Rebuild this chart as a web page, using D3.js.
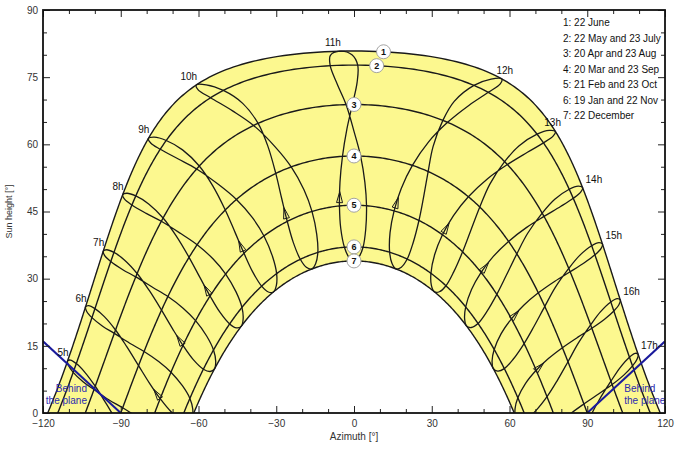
<!DOCTYPE html>
<html><head><meta charset="utf-8">
<script src="https://cdn.jsdelivr.net/npm/d3@7"></script>
<style>
body{margin:0;background:#fff}
text{font-family:"Liberation Sans",Arial,sans-serif}
</style>
</head><body>
<svg id="chart" width="686" height="449"></svg>
<script>
// ---------------- data ----------------
const latitude = 32.6;          // site latitude, deg N
const clockToSolarMin = 58;     // solar time minus clock time (minutes), before equation of time
const curveDeclination = [23.44, 20.3, 11.5, 0, -11.0, -20.3, -23.44];
const curveNumbers = ["1","2","3","4","5","6","7"];
const curveLegend = ["1: 22 June","2: 22 May and 23 July","3: 20 Apr and 23 Aug","4: 20 Mar and 23 Sep","5: 21 Feb and 23 Oct","6: 19 Jan and 22 Nov","7: 22 December"];
const markerAzimuth = [10, 8, 0, 0, 0, 0, 0];
const yearDates = ["Dec 22","Jan 5","Jan 19","Feb 5","Feb 21","Mar 6","Mar 20","Apr 5","Apr 20","May 6","May 22","Jun 6","Jun 22","Jul 7","Jul 23","Aug 8","Aug 23","Sep 8","Sep 23","Oct 8","Oct 23","Nov 7","Nov 22","Dec 7"];
const yearDeclination = [-23.44,-22.6,-20.3,-16.0,-11.0,-5.7,0,6.1,11.5,16.5,20.3,22.6,23.44,22.6,20.3,16.0,11.5,5.5,0,-5.8,-11.0,-16.3,-20.3,-22.6];
const yearEoT = [1.6,-5.0,-10.6,-14.0,-13.8,-11.5,-7.6,-2.9,1.1,3.4,3.3,1.4,-1.8,-4.9,-6.4,-5.6,-2.5,2.0,7.5,12.5,15.6,16.2,13.9,8.5];
const hours = [5,6,7,8,9,10,11,12,13,14,15,16,17];
const hourLabels = ["5h","6h","7h","8h","9h","10h","11h","12h","13h","14h","15h","16h","17h"];
const xTickLabels = [-120,-90,-60,-30,0,30,60,90,120];
const yTickLabels = [0,15,30,45,60,75,90];
const planeLeft = [[-120,16],[-90,0]];
const planeRight = [[90,0],[120,16]];
const planeText = ["Behind","the plane"];

// ---------------- layout ----------------
const svg = d3.select("#chart");
const L = 43, R = 665, T = 10, B = 413;
const x = d3.scaleLinear().domain([-120,120]).range([L,R]);
const y = d3.scaleLinear().domain([0,90]).range([B,T]);
const yellow = "#fcf88f", ink = "#1a1a1a";

svg.append("defs").append("clipPath").attr("id","plot")
  .append("rect").attr("x",L).attr("y",T).attr("width",R-L).attr("height",B-T);

// equatorial (hour angle, declination) -> horizon (azimuth from south, altitude)
const toHorizon = d3.geoRotation([0, 90 - latitude]);
const hourAngle = (h, eot) => 15*(h-12) + (clockToSolarMin + eot)/4;

const line = d3.line().x(d=>x(d[0])).y(d=>y(d[1]));
const dayPath = dec => d3.range(-180, 180.01, 0.5)
  .map(H => toHorizon([H, dec])).filter(p => p[1] > -8);

const g = svg.append("g").attr("clip-path","url(#plot)");

// yellow band between 22 June and 22 December
const band = dayPath(curveDeclination[0]).concat(dayPath(curveDeclination[6]).reverse());
g.append("path").attr("d", line(band) + "Z").attr("fill", yellow).attr("stroke","none");

// day curves
const dayCurves = curveDeclination.map(dayPath);
g.selectAll("path.day").data(dayCurves).join("path").attr("class","day")
  .attr("d", line).attr("fill","none").attr("stroke",ink).attr("stroke-width",1.4);

// analemmas
const closed = d3.line().x(d=>x(d[0])).y(d=>y(d[1])).curve(d3.curveCatmullRomClosed.alpha(0.5));
const analemmas = hours.map(h => yearDates.map((d,j) => toHorizon([hourAngle(h, yearEoT[j]), yearDeclination[j]])));
g.selectAll("path.ana").data(analemmas).join("path").attr("class","ana")
  .attr("d", closed).attr("fill","none").attr("stroke",ink).attr("stroke-width",1.3);

// direction arrows (between 21 Feb and 6 Mar)
const iA = yearDates.indexOf("Feb 21"), iB = yearDates.indexOf("Mar 6");
analemmas.forEach(pts => {
  const a = pts[iA], b = pts[iB];
  const ax = x(a[0]), ay = y(a[1]), bx = x(b[0]), by = y(b[1]);
  const tx = ax + 0.6*(bx-ax), ty = ay + 0.6*(by-ay);
  if (ty > B - 4) return;
  let dx = bx-ax, dy = by-ay; const n = Math.hypot(dx,dy); dx/=n; dy/=n;
  const len = 11, w = 3;
  const p1 = [tx - dx*len - dy*w, ty - dy*len + dx*w];
  const p2 = [tx - dx*len + dy*w, ty - dy*len - dx*w];
  g.append("path").attr("d",`M${p1}L${tx},${ty}L${p2}Z`)
    .attr("fill","none").attr("stroke",ink).attr("stroke-width",1);
});

// plane edges
[planeLeft, planeRight].forEach(p => g.append("path").attr("d", line(p))
  .attr("fill","none").attr("stroke","#1a1a9c").attr("stroke-width",2));

// legend
const legend = svg.append("g");
legend.selectAll("text").data(curveLegend).join("text")
  .attr("x",563).attr("y",(d,i)=>26 + i*15.5).attr("font-size",10).attr("fill","#111").text(d=>d);
const legendBox = legend.node().getBBox();

// hour labels at the 22 June point
const iJun = yearDates.indexOf("Jun 22");
hours.forEach((h,k) => {
  const p = analemmas[k][iJun];
  const px = x(p[0]), py = y(p[1]);
  const anchor = h < 12 ? "end" : (h <= 13 ? "middle" : "start");
  const t = svg.append("text").attr("x", px + (h < 12 ? 1 : 3)).attr("y", py - 5)
    .attr("text-anchor", anchor).attr("font-size",10).attr("fill","#111")
    .text(hourLabels[k]);
  const bb = t.node().getBBox();
  if (bb.y < legendBox.y + legendBox.height && bb.x + bb.width > legendBox.x - 1 && bb.y + bb.height > legendBox.y) {
    t.attr("x", +t.attr("x") - (bb.x + bb.width - legendBox.x + 2));
  }
});

// curve markers
dayCurves.forEach((pts,i) => {
  const p = d3.least(pts.filter(q=>q[1]>0), q => Math.abs(q[0]-markerAzimuth[i]));
  const m = svg.append("g").attr("transform",`translate(${x(p[0])},${y(p[1])})`);
  m.append("circle").attr("r",7).attr("fill","#fff").attr("stroke","#9a9a9a").attr("stroke-width",0.9);
  m.append("text").attr("text-anchor","middle").attr("dy","0.35em").attr("font-size",9)
    .attr("font-weight","bold").attr("fill","#111").text(curveNumbers[i]);
});

// plane text
const pt = svg.append("g").attr("font-size",10).attr("fill","#2b2bb0");
planeText.forEach((t,i) => {
  pt.append("text").attr("x", x(-120)+44).attr("y", 392 + i*12).attr("text-anchor","end").text(t);
  pt.append("text").attr("x", x(90)+37).attr("y", 392 + i*12).attr("text-anchor","start").text(t);
});

// axes
function styleAxis(sel){ sel.select(".domain").remove(); sel.selectAll("line").attr("stroke","#222");
  sel.selectAll("text").attr("font-size",10).attr("fill","#333").attr("font-family","Liberation Sans, Arial, sans-serif"); }
const minorX = d3.range(-120,121,10).filter(v => v % 30 !== 0);
const minorY = d3.range(0,91,5).filter(v => v % 15 !== 0);
svg.append("g").attr("transform",`translate(0,${B})`).call(d3.axisBottom(x).tickValues(xTickLabels).tickSize(-7).tickPadding(7)).call(styleAxis);
svg.append("g").attr("transform",`translate(0,${B})`).call(d3.axisBottom(x).tickValues(minorX).tickSize(-4).tickFormat("")).call(styleAxis);
svg.append("g").attr("transform",`translate(0,${T})`).call(d3.axisTop(x).tickValues(xTickLabels).tickSize(-7).tickFormat("")).call(styleAxis);
svg.append("g").attr("transform",`translate(0,${T})`).call(d3.axisTop(x).tickValues(minorX).tickSize(-4).tickFormat("")).call(styleAxis);
svg.append("g").attr("transform",`translate(${L},0)`).call(d3.axisLeft(y).tickValues(yTickLabels).tickSize(-7).tickPadding(5)).call(styleAxis);
svg.append("g").attr("transform",`translate(${L},0)`).call(d3.axisLeft(y).tickValues(minorY).tickSize(-4).tickFormat("")).call(styleAxis);
svg.append("g").attr("transform",`translate(${R},0)`).call(d3.axisRight(y).tickValues(yTickLabels).tickSize(-7).tickFormat("")).call(styleAxis);
svg.append("g").attr("transform",`translate(${R},0)`).call(d3.axisRight(y).tickValues(minorY).tickSize(-4).tickFormat("")).call(styleAxis);
svg.append("rect").attr("x",L).attr("y",T).attr("width",R-L).attr("height",B-T)
  .attr("fill","none").attr("stroke","#111").attr("stroke-width",1.8);

svg.append("text").attr("x",(L+R)/2).attr("y",440).attr("text-anchor","middle")
  .attr("font-size",10).attr("fill","#333").text("Azimuth [°]");
svg.append("text").attr("transform",`translate(12,${(T+B)/2}) rotate(-90)`).attr("text-anchor","middle")
  .attr("font-size",9).attr("fill","#333").text("Sun height [°]");
</script>
</body></html>
